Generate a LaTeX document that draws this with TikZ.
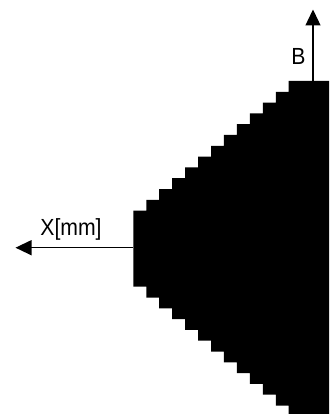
\documentclass[tikz,border=0pt]{standalone}
\usepackage{fontspec}
\setmainfont{Liberation Sans}
\usetikzlibrary{arrows.meta}
\tikzset{
  axisarrow/.style={line width=1.3pt,-{Triangle[length=16pt,width=15pt]}},
  axislabel/.style={anchor=base,inner sep=0pt,font=\fontsize{21.2}{24}\selectfont},
}
\begin{document}
\begin{tikzpicture}[x=1pt,y=-1pt]
\useasboundingbox (0,0) rectangle (329,414);
\clip (0,0) rectangle (329,414);
% stepped shape
\fill[black] (335,81)
  \foreach \k in {0,...,11} {
    -- ({133.3+(12-\k)*12.95},{81+\k*10.8})
    -- ({133.3+(12-\k)*12.95},{81+(\k+1)*10.8})
  }
  -- (133.3,210.6) -- (133.3,286.7)
  \foreach \m in {0,...,11} {
    -- ({133.3+(\m+1)*12.95},{286.7+\m*10.8})
    -- ({133.3+(\m+1)*12.95},{286.7+(\m+1)*10.8})
  }
  -- (335,416.3) -- cycle;
% axes
\coordinate (Bstart) at (313,81);
\coordinate (Bend) at (313,9.5);
\coordinate (Xstart) at (133.3,247.7);
\coordinate (Xend) at (15.5,247.7);
\draw[axisarrow] (Bstart) -- (Bend);
\draw[axisarrow] (Xstart) -- (Xend);
\node[axislabel] (Blabel) at (298.4,65) {\scalebox{1}[1.1]{B}};
\node[axislabel] (Xlabel) at (71,235) {\scalebox{1}[1.1]{X[mm]}};
\end{tikzpicture}
\end{document}
